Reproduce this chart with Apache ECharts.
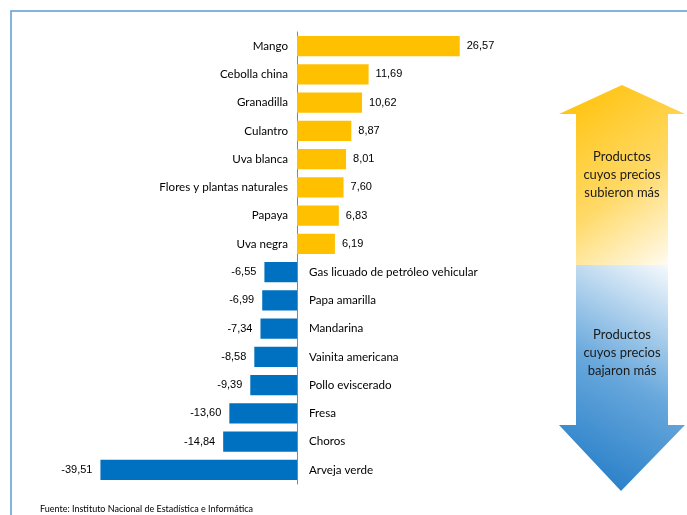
<!DOCTYPE html>
<html>
<head>
<meta charset="utf-8">
<script src="https://cdn.jsdelivr.net/npm/echarts@6/dist/echarts.min.js"></script>
<style>
  html, body { margin: 0; padding: 0; background: #fff; }
  #chart { width: 687px; height: 515px; }
</style>
</head>
<body>
<div id="chart"></div>
<script>
  // productos que subieron
  var upNames = ['Mango', 'Cebolla china', 'Granadilla', 'Culantro', 'Uva blanca',
    'Flores y plantas naturales', 'Papaya', 'Uva negra']
  var upValues = [26.57, 11.69, 10.62, 8.87, 8.01, 7.60, 6.83, 6.19]
  // productos que bajaron
  var downNames = ['Gas licuado de petróleo vehicular', 'Papa amarilla', 'Mandarina',
    'Vainita americana', 'Pollo eviscerado', 'Fresa', 'Choros', 'Arveja verde']
  var downValues = [-6.55, -6.99, -7.34, -8.58, -9.39, -13.60, -14.84, -39.51]

  var fmt = function (p) { return p.value.toFixed(2).replace('.', ',') }
  var nameFont = { fontFamily: 'Lato', fontSize: 11.6, color: '#000' }
  var valFont = { fontFamily: 'Liberation Sans', fontSize: 11, color: '#000' }

  var chart = echarts.init(document.getElementById('chart'), null, { renderer: 'canvas' })

  function arrow (pts, colorStops, x, y, x2, y2) {
    return {
      type: 'polygon',
      shape: { points: pts },
      style: {
        fill: { type: 'linear', x: x, y: y, x2: x2, y2: y2, colorStops: colorStops }
      },
      z: 1
    }
  }

  function label (txt, x, y) {
    return {
      type: 'text', x: x, y: y, z: 2,
      style: {
        text: txt, align: 'center', verticalAlign: 'top',
        font: '13px Lato', lineHeight: 18, fill: '#1a1a1a'
      }
    }
  }

  chart.setOption({
    animation: false,
    grid: [
      { left: 297, width: 245, top: 32, height: 226 },
      { left: 98, width: 199, top: 258, height: 226 }
    ],
    xAxis: [
      { gridIndex: 0, type: 'value', min: 0, max: 40, show: false },
      { gridIndex: 1, type: 'value', min: -40, max: 0, show: false }
    ],
    yAxis: [
      {
        gridIndex: 0, type: 'category', data: upNames, inverse: true,
        axisLine: { show: true, lineStyle: { color: '#868686', width: 1 } },
        axisTick: { show: false },
        axisLabel: Object.assign({ margin: 9 }, nameFont)
      },
      {
        gridIndex: 1, type: 'category', data: downNames, inverse: true, position: 'right',
        axisLine: { show: true, lineStyle: { color: '#868686', width: 1 } },
        axisTick: { show: false },
        axisLabel: Object.assign({ margin: 12 }, nameFont)
      }
    ],
    series: [
      {
        type: 'bar', xAxisIndex: 0, yAxisIndex: 0, data: upValues,
        barCategoryGap: '28%',
        itemStyle: { color: '#FFC000' },
        label: Object.assign({ show: true, position: 'right', distance: 7, formatter: fmt }, valFont)
      },
      {
        type: 'bar', xAxisIndex: 1, yAxisIndex: 1, data: downValues,
        barCategoryGap: '28%',
        itemStyle: { color: '#0070C0' },
        label: Object.assign({ show: true, position: 'left', distance: 8, formatter: fmt }, valFont)
      }
    ],
    graphic: [
      {
        type: 'rect',
        shape: { x: 11, y: 11, width: 700, height: 540 },
        style: { fill: 'none', stroke: '#5B9BD5', lineWidth: 1.5 },
        silent: true
      },
      arrow([[622, 85], [685, 114], [668, 114], [668, 265], [576, 265], [576, 114], [559, 114]],
        [{ offset: 0, color: '#FFC000' }, { offset: 0.55, color: '#FFD966' }, { offset: 1, color: '#FFFFFF' }],
        0, 0, 1, 1),
      arrow([[576, 265], [668, 265], [668, 425], [685, 425], [621, 491], [559, 425], [576, 425]],
        [{ offset: 0, color: '#1A76C4' }, { offset: 0.5, color: '#68A8DC' }, { offset: 1, color: '#FFFFFF' }],
        0, 1, 1, 0),
      label('Productos\ncuyos precios\nsubieron más', 622, 148),
      label('Productos\ncuyos precios\nbajaron más', 622, 326),
      {
        type: 'text', left: 40, top: 505,
        style: { text: 'Fuente: Instituto Nacional de Estadística e Informática', font: '9px Lato', fill: '#000' }
      }
    ]
  })
</script>
</body>
</html>
